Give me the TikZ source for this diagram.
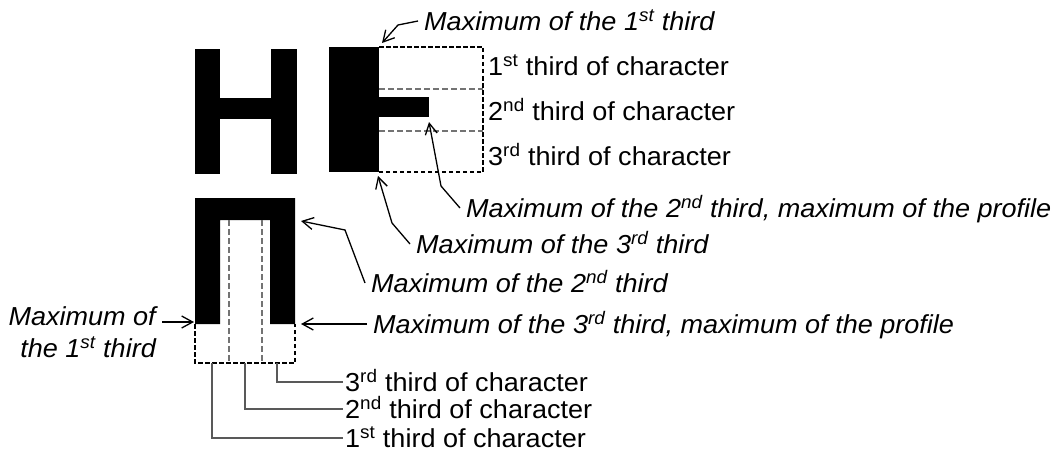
\documentclass[tikz,border=0pt]{standalone}
\usepackage{fontspec}
\setmainfont[FakeStretch=1.04]{Liberation Sans}
\usetikzlibrary{arrows.meta,calc}
\begin{document}
\begin{tikzpicture}[x=1pt,y=-1pt,
  outerdash/.style={draw=black,line width=2pt,dash pattern=on 4.5pt off 2.5pt},
  innerdash/.style={draw=black!55,line width=1.3pt,dash pattern=on 6pt off 3pt},
  conn/.style={draw=black,line width=1.3pt,-{Straight Barb[length=11pt,width=12pt]}},
  leader/.style={draw=black!65,line width=1.3pt},
  lab/.style={font=\fontsize{26}{32}\selectfont,inner ysep=0pt,
    text height=18.6pt,text depth=0pt,anchor=west},
  ilab/.style={lab,font=\fontsize{26}{32}\selectfont\itshape,inner xsep=6pt},
]
\useasboundingbox (0,0) rectangle (1052,452);

% letter H
\fill (195,49) rectangle (220,174);
\fill (271,49) rectangle (297,174);
\fill (220,98) rectangle (271,119);

% horizontal profile of H
\fill (329,47) rectangle (379,172);
\fill (379,97) rectangle (429,117);
\draw[outerdash] (379,47) -- (483,47) -- (483,172) -- (379,172);
\draw[innerdash] (379,89) -- (483,89);
\draw[innerdash] (379,131) -- (483,131);

% letter Pi with its vertical profile
\fill (195,324) -- (195,198) -- (295,198) -- (295,324) -- (270,324)
  -- (270,220) -- (220,220) -- (220,324) -- cycle;
\draw[outerdash] (195,324) -- (195,363) -- (295,363) -- (295,324);
\draw[innerdash] (229,220) -- (229,363);
\draw[innerdash] (262,220) -- (262,363);

% thirds of the horizontal profile
\node[lab,inner xsep=5pt] (r1) at (483,66) {1\textsuperscript{st} third of character};
\node[lab,inner xsep=5pt] (r2) at (483,111) {2\textsuperscript{nd} third of character};
\node[lab,inner xsep=5pt] (r3) at (483,156) {3\textsuperscript{rd} third of character};

% thirds of the vertical profile
\node[lab,inner xsep=2pt] (b3) at (343,382) {3\textsuperscript{rd} third of character};
\node[lab,inner xsep=2pt] (b2) at (343,409) {2\textsuperscript{nd} third of character};
\node[lab,inner xsep=2pt] (b1) at (343,438) {1\textsuperscript{st} third of character};
\draw[leader] (277,363) |- (b3.west);
\draw[leader] (245,363) |- (b2.west);
\draw[leader] (212,363) |- (b1.west);

% maxima of the horizontal profile
\node[ilab] (m1) at (418,21) {Maximum of the 1\textsuperscript{st} third};
\node[ilab] (m2) at (460,208) {Maximum of the 2\textsuperscript{nd} third, maximum of the profile};
\node[ilab] (m3) at (410,244) {Maximum of the 3\textsuperscript{rd} third};
\coordinate (t1) at (382,43);
\coordinate (t2) at (429,122);
\coordinate (t3) at (378,176);
\draw[conn] (m1.west) -- (398,25) -- (t1);
\draw[conn] (m2.west) -- (441,186) -- (t2);
\draw[conn] (m3.west) -- (392,223) -- (t3);

% maxima of the vertical profile
\node[ilab] (m4) at (365,283) {Maximum of the 2\textsuperscript{nd} third};
\node[ilab] (m5) at (367,324) {Maximum of the 3\textsuperscript{rd} third, maximum of the profile};
\node[font=\fontsize{26}{32}\selectfont\itshape,align=right,anchor=north east,
  inner xsep=6pt,inner ysep=0pt] (m6) at (162,306) {Maximum of\\the 1\textsuperscript{st} third};
\coordinate (t4) at (301,221);
\coordinate (t5) at (301,324);
\coordinate (t6) at (194,322);
\draw[conn] (m4.west) -- (345,230) -- (t4);
\draw[conn] (m5.west) -- (t5);
\draw[conn] (m6.east |- t6) -- (t6);
\end{tikzpicture}
\end{document}
